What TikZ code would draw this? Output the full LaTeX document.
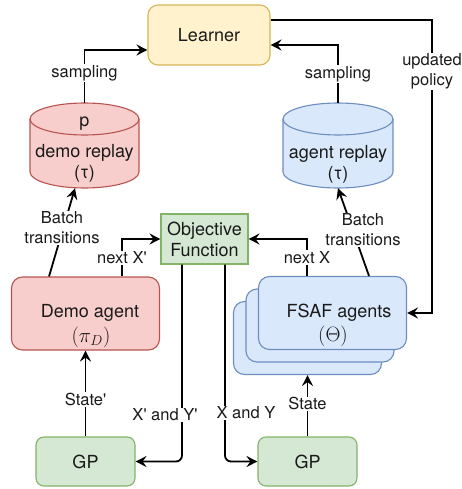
\documentclass[tikz,border=0pt]{standalone}
\usepackage{fontspec}
\setmainfont{TeX Gyre Heros}
\usetikzlibrary{arrows.meta,calc}
\definecolor{yfill}{HTML}{FFF2CC}\definecolor{ydraw}{HTML}{D6B656}
\definecolor{rfill}{HTML}{F8CECC}\definecolor{rdraw}{HTML}{B85450}
\definecolor{bfill}{HTML}{DAE8FC}\definecolor{bdraw}{HTML}{6C8EBF}
\definecolor{gfill}{HTML}{D5E8D4}\definecolor{gdraw}{HTML}{82B366}
\definecolor{txt}{HTML}{1A1A1A}
\tikzset{
  nodefont/.style={font=\fontsize{18}{21}\selectfont, text=txt},
  mathfont/.style={font=\fontsize{21}{24}\selectfont, text=txt},
  lblfont/.style={font=\fontsize{16.5}{20}\selectfont, text=txt},
  box/.style={draw, line width=1.1pt, inner sep=0pt, nodefont, align=center},
  ybox/.style={box, fill=yfill, draw=ydraw, rounded corners=10pt},
  rbox/.style={box, fill=rfill, draw=rdraw, rounded corners=11pt},
  bbox/.style={box, fill=bfill, draw=bdraw, rounded corners=11pt},
  gbox/.style={box, fill=gfill, draw=gdraw, rounded corners=8pt},
  objbox/.style={box, fill=gfill, draw=gdraw},
  anchorbox/.style={inner sep=0pt, draw=none},
  edgelbl/.style={fill=white, inner sep=1pt, lblfont, align=center},
  plain/.style={inner sep=0pt, nodefont, align=center},
  mplain/.style={inner sep=0pt, mathfont},
  arr/.style={line width=1.8pt, -{Stealth[length=11pt,width=11pt,inset=4pt]}},
}
\begin{document}
\begin{tikzpicture}[x=1pt,y=-1pt]
\useasboundingbox (0,0) rectangle (462,489);

% Learner
\node[ybox, minimum width=122pt, minimum height=60pt] (learner) at (209,35) {Learner};

% demo replay cylinder
\fill[rfill] (30,119) rectangle (139,172);
\fill[rfill] (84.5,172) ellipse [x radius=54.5pt, y radius=16pt];
\fill[rfill] (84.5,119) ellipse [x radius=54.5pt, y radius=16pt];
\draw[rdraw, line width=1.1pt] (84.5,119) ellipse [x radius=54.5pt, y radius=16pt];
\draw[rdraw, line width=1.1pt] (30,119) -- (30,172) arc[start angle=180, end angle=360, x radius=54.5pt, y radius=16pt] -- (139,119);
\node[anchorbox, minimum width=109pt, minimum height=85pt] (dr) at (84.5,145.5) {};
\node[plain] (drp) at (84.5,124) {p};
\node[plain] (drt) at (84.5,163) {demo replay\\(τ)};

% agent replay cylinder
\fill[bfill] (283,119) rectangle (393,172);
\fill[bfill] (338,172) ellipse [x radius=55pt, y radius=16pt];
\fill[bfill] (338,119) ellipse [x radius=55pt, y radius=16pt];
\draw[bdraw, line width=1.1pt] (338,119) ellipse [x radius=55pt, y radius=16pt];
\draw[bdraw, line width=1.1pt] (283,119) -- (283,172) arc[start angle=180, end angle=360, x radius=55pt, y radius=16pt] -- (393,119);
\node[anchorbox, minimum width=110pt, minimum height=85pt] (ar) at (338,145.5) {};
\node[plain] (art) at (338,164) {agent replay\\(τ)};

% Objective function
\node[objbox, minimum width=87pt, minimum height=50pt] (obj) at (204.5,239) {Objective\\Function};

% Demo agent
\node[rbox, minimum width=148pt, minimum height=73pt] (demo) at (85.5,313.5) {};
\node[plain] (demot) at (90,313) {Demo agent};
\node[mplain] (demom) at (91,337) {$(\pi_D)$};

% FSAF agents stack
\node[bbox, minimum width=148pt, minimum height=73pt] (fsaf3) at (307.5,338) {};
\node[bbox, minimum width=148pt, minimum height=73pt] (fsaf2) at (320,325.5) {};
\node[bbox, minimum width=148pt, minimum height=73pt] (fsaf1) at (332.5,313) {};
\node[plain] (fsaft) at (339,313) {FSAF agents};
\node[mplain] (fsafm) at (333,336) {$(\Theta)$};

% GP boxes
\node[gbox, minimum width=99pt, minimum height=49pt] (gp1) at (85.5,461.5) {GP};
\node[gbox, minimum width=99pt, minimum height=49pt] (gp2) at (307.5,461.5) {GP};

% sampling edges
\draw[arr] (dr.north) |- ($(learner.west)+(0,15)$) node[edgelbl, pos=0.28] {sampling};
\draw[arr] (ar.north) |- ($(learner.east)+(0,10)$) node[edgelbl, pos=0.25] {sampling};

% updated policy
\coordinate (upc) at (432,20);
\draw[arr] ($(learner.east)+(0,-15)$) -- (upc) |- (fsaf1.east);
\node[edgelbl] (uplbl) at (432,71.5) {updated\\policy};

% batch transitions
\draw[arr] ($(demo.north)+(-36.5,0)$) -- ($(dr.south)+(-9.5,0)$);
\node[edgelbl] (bt1) at (62,228) {Batch\\transitions};
\draw[arr] ($(fsaf1.north)+(36.5,0)$) -- (ar.south);
\node[edgelbl] (bt2) at (363,230) {Batch\\transitions};

% next X
\draw[arr] ($(demo.north)+(36.5,0)$) |- (obj.west) node[edgelbl, pos=0.25] {next X\textquotesingle};
\draw[arr] ($(fsaf1.north)+(-25.5,0)$) |- (obj.east) node[edgelbl, pos=0.25] {next X};

% X and Y
\draw[arr, rounded corners=6pt] ($(obj.south)+(-22.5,0)$) |- (gp1.east);
\node[edgelbl] (xy1) at (165,415) {X\textquotesingle{} and Y\textquotesingle};
\draw[arr, rounded corners=6pt] ($(obj.south)+(20.5,0)$) |- (gp2.west);
\node[edgelbl] (xy2) at (246,413) {X and Y};

% state
\draw[arr] (gp1.north) -- (demo.south) node[edgelbl, pos=0.43] {State\textquotesingle};
\draw[arr] (gp2.north) -- (fsaf3.south) node[edgelbl, pos=0.53] {State};
\end{tikzpicture}
\end{document}
